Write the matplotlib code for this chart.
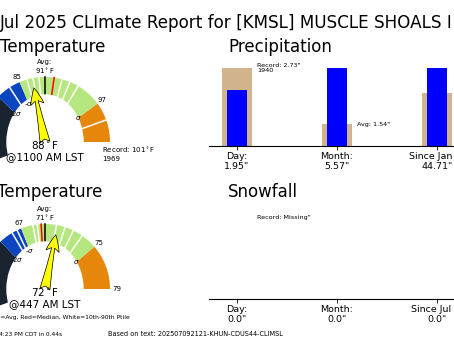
import numpy as np
import matplotlib
matplotlib.use("Agg")
import matplotlib.pyplot as plt
from matplotlib.patches import Ellipse

W, H = 454, 341

# ---- data ----
title = "Jul 2025 CLImate Report for [KMSL] MUSCLE SHOALS I"

# high temperature gauge (scale_lo = value that sits at 180 deg)
hi_scale_lo, hi_avg, hi_sigma, hi_top, hi_min = 67.5, 91, 6.0, 101, 62.3
hi_median = 91.9
hi_deciles = [82.4, 86.8, 88.2, 89.6, 92.7, 93.5, 94.4, 98.8]
hi_obs, hi_time = 88, "@1100 AM LST"
hi_record = "Record: 101$^\\circ$F\n1969"

# low temperature gauge
lo_scale_lo, lo_avg, lo_sigma, lo_top, lo_min = 52.6, 71, 4.4, 79, 48.5
lo_median = 70.3
lo_deciles = [64.8, 65.8, 68.8, 69.6, 71.9, 72.6, 73.3, 74.1]
lo_obs, lo_time = 72, "@447 AM LST"

# precipitation / snowfall
precip_names = ["Day:", "Month:", "Since Jan 1:"]
precip_obs = [1.95, 5.57, 44.71]
precip_ref = [2.73, 1.54, 30.40]
precip_ref_txt = ['Record: 2.73"\n1940', 'Avg: 1.54"', 'Avg: 30.40"']

snow_names = ["Day:", "Month:", "Since Jul 1:"]
snow_obs = [0.0, 0.0, 0.0]
snow_ref = [0.0, 0.0, 0.0]
snow_ref_txt = ['Record: Missing"', "", ""]

NAVY, BLUE, GREEN, ORANGE = "#1a2430", "#0c45c0", "#b6e67e", "#e6870c"


def rect(x0, y0, x1, y1):
    return [x0 / W, 1 - y1 / H, (x1 - x0) / W, (y1 - y0) / H]


def gauge(fig, cx, cy, R, slo, avg, sig, top, tmin, med, dec, obs, when,
          left_lbl, right_lbl, avg_lbl, m2_lbl, record=None):
    ax = fig.add_axes(rect(cx - 110, cy - 100, cx + 110, cy + 40))
    ax.set_xlim(-110 / R, 110 / R)
    ax.set_ylim(-40 / R, 100 / R)
    ax.axis("off")

    def ang(t):
        t = np.asarray(t, dtype=float)
        deg = np.where(t < avg, 90 + 90 * (avg - t) / (avg - slo),
                       90 * (top - t) / (top - avg))
        return np.radians(deg)

    bounds = [tmin, avg - 2 * sig, avg - sig, avg + sig, top]
    colors = [NAVY, BLUE, GREEN, ORANGE]
    for t0, t1, c in zip(bounds[:-1], bounds[1:], colors):
        th = np.linspace(ang(t0), ang(t1), 80)
        ax.fill(np.r_[0, np.cos(th)], np.r_[0, np.sin(th)], color=c, lw=0,
                zorder=1)

    for t, c in [(d, "white") for d in dec] + [(avg, "black"), (med, "red")]:
        a = ang(t)
        ax.plot([0, np.cos(a)], [0, np.sin(a)], color=c, lw=1.1, zorder=2)

    # white centre hole
    ax.add_patch(Ellipse((0, 0), 2 * 38 / R, 2 * 47 / R, color="white",
                         zorder=3))

    fs = 5
    a = ang(avg)
    ax.text(np.cos(a), 1.02, "Avg:\n%s$^\\circ$F" % avg_lbl, ha="center",
            va="bottom", fontsize=fs, linespacing=1.1, zorder=5)
    for t, s in [(avg - 2 * sig, m2_lbl), (avg - sig, left_lbl),
                 (avg + sig, right_lbl)]:
        if not s:
            continue
        a = ang(t)
        ax.text(1.09 * np.cos(a), 1.09 * np.sin(a), s, ha="center",
                va="center", fontsize=fs, zorder=5)
    for t, s in [(avg - 2 * sig, "-2$\\sigma$"), (avg - sig, "-$\\sigma$"),
                 (avg + sig, "$\\sigma$")]:
        a = ang(t)
        ax.text(0.63 * np.cos(a), 0.63 * np.sin(a), s, ha="center",
                va="center", fontsize=fs, zorder=5)
    if record:
        ax.text(0.88, -0.05, record, ha="left", va="top", fontsize=fs,
                zorder=5)
    else:
        ax.text(1.04, 0.0, "%d" % top, ha="left", va="center", fontsize=fs,
                zorder=5)

    a = ang(obs)
    ax.annotate("", xy=(0.85 * np.cos(a), 0.85 * np.sin(a)), xytext=(0, 0),
                arrowprops=dict(arrowstyle="fancy,head_length=1.0,head_width=0.8,tail_width=0.6",
                                fc="yellow", ec="black", lw=0.5,
                                mutation_scale=12, shrinkA=0, shrinkB=0),
                zorder=6)
    ax.text(0, -0.05, "%d$^\\circ$F" % obs, ha="center", va="center",
            fontsize=7.5, zorder=6)
    ax.text(0, -0.23, when, ha="center", va="center", fontsize=7.5, zorder=6)


def bars(fig, x0, ybase, names, obs, ref, ref_txt):
    ax = fig.add_axes(rect(x0, ybase - 78, x0 + 256, ybase))
    ax.set_xlim(-0.28, 2.28)
    ax.set_ylim(0, 1)
    pos = np.arange(len(names))
    scale = [max(o, r) if max(o, r) > 0 else 1 for o, r in zip(obs, ref)]
    ax.bar(pos, np.array(ref) / scale, width=0.3, color="tan")
    ax.bar(pos, np.array(obs) / scale, width=0.2, color="blue")
    for p, r, s, txt in zip(pos, ref, scale, ref_txt):
        yy = r / s if r > 0 else 1.05
        ax.text(p + 0.2, yy, txt, fontsize=4.6, va="center", ha="left",
                clip_on=False)
    ax.set_xticks(pos)
    ax.set_xticklabels(['%s\n%.2f"' % (n, v) if v else '%s\n%.1f"' % (n, v)
                        for n, v in zip(names, obs)], fontsize=6.8)
    ax.tick_params(axis="x", length=3, width=0.6, pad=1)
    ax.set_yticks([])
    for s in ["top", "left", "right"]:
        ax.spines[s].set_visible(False)
    ax.spines["bottom"].set_linewidth(0.8)


fig = plt.figure(figsize=(W / 100, H / 100), dpi=100)
fig.text(0 / W, 1 - 28 / H, title, fontsize=12.1, va="baseline")
fig.text(0 / W, 1 - 52 / H, "Temperature", fontsize=12, va="baseline")
fig.text(-3 / W, 1 - 197 / H, "Temperature", fontsize=12, va="baseline")
fig.text(228 / W, 1 - 52 / H, "Precipitation", fontsize=12, va="baseline")
fig.text(228 / W, 1 - 197 / H, "Snowfall", fontsize=12, va="baseline")

gauge(fig, 45, 142, 65, hi_scale_lo, hi_avg, hi_sigma, hi_top, hi_min,
      hi_median, hi_deciles, hi_obs, hi_time, "85", "97", "91", "",
      record=hi_record)
gauge(fig, 45, 289, 65, lo_scale_lo, lo_avg, lo_sigma, lo_top, lo_min,
      lo_median, lo_deciles, lo_obs, lo_time, "67", "75", "71", "62")

bars(fig, 209, 146, precip_names, precip_obs, precip_ref, precip_ref_txt)
bars(fig, 209, 299, snow_names, snow_obs, snow_ref, snow_ref_txt)

fig.text(130 / W, 1 - 317 / H, "Black=Avg, Red=Median, White=10th-90th Ptile",
         fontsize=4.3, ha="right", va="center")
fig.text(-1 / W, 1 - 335 / H, "4:23 PM CDT in 0.44s", fontsize=4.2,
         va="center")
fig.text(108 / W, 1 - 334 / H,
         "Based on text: 202507092121-KHUN-CDUS44-CLIMSL", fontsize=4.7,
         va="center")

fig.savefig("out.png", dpi=100)
